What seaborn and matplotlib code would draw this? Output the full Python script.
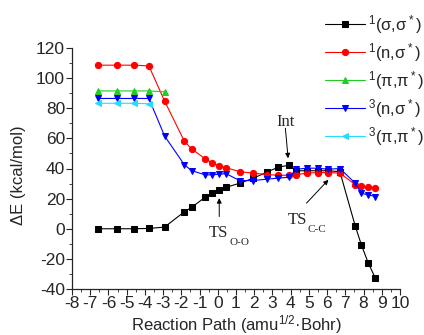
import numpy as np
import pandas as pd
import matplotlib
matplotlib.use('Agg')
import matplotlib.pyplot as plt
import seaborn as sns

# ==============================
# 1. Data
# ==============================
path = [-6.6, -5.55, -4.62, -3.78, -2.92, -1.83, -1.43, -0.7, -0.32, 0.07, 0.45,
        1.2, 1.94, 2.68, 3.32, 3.92, 4.3, 4.9, 5.5, 6.05, 6.7, 7.54, 7.88, 8.25, 8.65]

e_ss1 = [0, 0, 0, 0.2, 1.1, 11.3, 14.2, 20.9, 23.5, 25.5, 27.5,
         30.2, 33.5, 37.5, 40.9, 42.2, 38.5, 38.5, 38.5, 38.5, 37.9, 2, -10.7, -22.5, -32.9]
e_ns1 = [108.6, 108.6, 108.6, 108.1, 84.8, 58, 53, 46.5, 43.8, 41.8, 40.6,
         37.9, 36.9, 36, 35.5, 35.5, 35.8, 37, 37.3, 37.3, 37, 29.3, 28.3, 27.8, 27.3]
e_pp1 = [91.5, 91.5, 91.5, 91.5, 90.9]
e_ns3 = [86.5, 86.5, 86.5, 86.5, 61.6, 42.4, 38.6, 35.8, 35.8, 36.2, 36.6,
         32, 32, 32.9, 33.6, 34.2, 39.5, 40.2, 40.2, 39.5, 40, 30.3, 23.6, 22.5, 21.4]
e_pp3 = [83.3, 83.3, 83.3, 83]

labels = ['$\\mathregular{^1}$(σ,σ$\\mathregular{^*}$)',
          '$\\mathregular{^1}$(n,σ$\\mathregular{^*}$)',
          '$\\mathregular{^1}$(π,π$\\mathregular{^*}$)',
          '$\\mathregular{^3}$(n,σ$\\mathregular{^*}$)',
          '$\\mathregular{^3}$(π,π$\\mathregular{^*}$)']
series = [e_ss1, e_ns1, e_pp1, e_ns3, e_pp3]
colors = ['#000000', '#ff0000', '#22cc22', '#0000ff', '#22ddff']
markers = ['s', 'o', '^', 'v', '<']

# ==============================
# 2. Figure
# ==============================
sns.set_style('ticks')
plt.rcParams['font.family'] = ['Liberation Sans', 'DejaVu Sans']
plt.rcParams['font.size'] = 12
plt.rcParams['axes.unicode_minus'] = False

fig = plt.figure(figsize=(4.24, 3.35), dpi=100)
ax = fig.add_axes([72 / 424, 1 - 289 / 335, 328 / 424, 241 / 335])

for vals, lab, c, m in zip(series, labels, colors, markers):
    df = pd.DataFrame({'path': path[:len(vals)], 'E': vals})
    sns.lineplot(data=df, x='path', y='E', ax=ax, color=c, marker=m, label=lab,
                 markersize=4.5, markeredgecolor=c, linewidth=0.8, legend=False)

ax.set_xlim(-8, 10)
ax.set_ylim(-40, 120)
ax.set_xticks(range(-8, 11))
ax.set_xticks(np.arange(-8, 10.01, 0.5), minor=True)
ax.set_yticks(range(-40, 121, 20))
ax.set_yticks(range(-40, 121, 10), minor=True)
ax.tick_params(which='major', length=4, width=0.8, labelsize=12.5, pad=1)
ax.tick_params(which='minor', length=2, width=0.6)
for s in ['left', 'bottom']:
    ax.spines[s].set_linewidth(0.9)
sns.despine(ax=ax)

ax.set_xlabel('Reaction Path (amu$\\mathregular{^{1/2}}$·Bohr)', fontsize=12)
ax.set_ylabel('ΔE (kcal/mol)', fontsize=12)
ax.xaxis.set_label_coords(0.5, -0.098)
ax.yaxis.set_label_coords(-0.14, 0.473)

# annotations
arrow = dict(arrowstyle='-|>', color='k', lw=0.7, mutation_scale=7, shrinkA=0, shrinkB=0)
serif = ['Liberation Serif', 'DejaVu Serif']
ax.annotate('', xy=(3.86, 46.8), xytext=(3.71, 66.7), arrowprops=arrow)
ax.text(3.2, 68.2, 'Int', family=serif, fontsize=12)
ax.annotate('', xy=(0.08, 20.3), xytext=(0.08, 8.1), arrowprops=arrow)
ax.text(-0.47, -5.3, 'TS', family=serif, fontsize=12)
ax.annotate('O-O', xy=(-0.47, -5.3), xytext=(20, -8), textcoords='offset pixels',
            family=serif, fontsize=8)
ax.annotate('', xy=(6.07, 32.5), xytext=(4.87, 17), arrowprops=arrow)
ax.text(3.82, 3.3, 'TS', family=serif, fontsize=12)
ax.annotate('C-C', xy=(3.82, 3.3), xytext=(20, -8), textcoords='offset pixels',
            family=serif, fontsize=8)

handles, labs = ax.get_legend_handles_labels()
fig.legend(handles, labs, loc='upper left', bbox_to_anchor=(325 / 424, 1 - 13 / 335),
           frameon=False, borderpad=0, borderaxespad=0, handlelength=2.4,
           handletextpad=0.2, labelspacing=0.3, fontsize=12)

plt.savefig('out.png', dpi=100)
plt.close()
